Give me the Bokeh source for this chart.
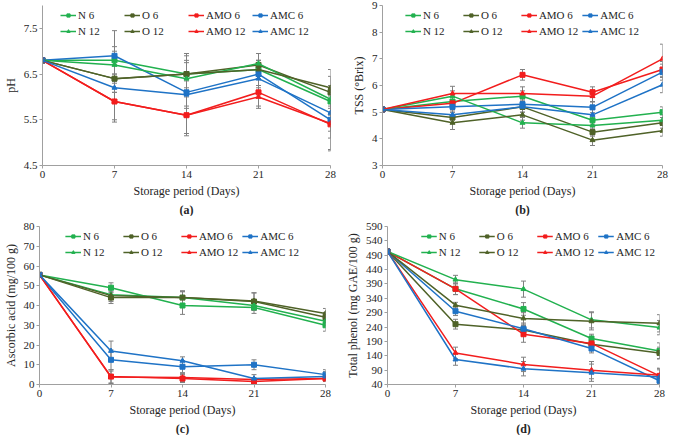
from bokeh.plotting import figure
from bokeh.models import (Range1d, Whisker, TeeHead, ColumnDataSource, Legend,
                          LegendItem, FixedTicker, Title)
from bokeh.layouts import column, row
from bokeh.embed import file_html
from bokeh.resources import INLINE

days = [0, 7, 14, 21, 28]
series = ["N 6", "O 6", "AMO 6", "AMC 6", "N 12", "O 12", "AMO 12", "AMC 12"]

# (a) pH
ph = {
    "N 6":    [6.8, 6.8, 6.5, 6.6, 5.9],
    "N 12":   [6.8, 6.7, 6.4, 6.73, 5.95],
    "O 6":    [6.8, 6.4, 6.5, 6.7, 6.1],
    "O 12":   [6.8, 6.4, 6.5, 6.6, 6.2],
    "AMO 6":  [6.8, 5.9, 5.6, 6.1, 5.4],
    "AMO 12": [6.8, 5.9, 5.6, 6.0, 5.42],
    "AMC 6":  [6.8, 6.9, 6.1, 6.5, 5.5],
    "AMC 12": [6.8, 6.2, 6.05, 6.4, 5.65],
}
ph_err = {
    "N 6":    [0.05, 0.3, 0.3, 0.2, 0.3],
    "N 12":   [0.05, 0.3, 0.35, 0.22, 0.3],
    "O 6":    [0.05, 0.3, 0.45, 0.25, 0.35],
    "O 12":   [0.05, 0.3, 0.4, 0.2, 0.4],
    "AMO 6":  [0.05, 0.45, 0.45, 0.3, 0.55],
    "AMO 12": [0.05, 0.4, 0.4, 0.25, 0.6],
    "AMC 6":  [0.05, 0.55, 0.3, 0.3, 0.4],
    "AMC 12": [0.05, 0.3, 0.3, 0.3, 0.4],
}

# (b) TSS
tss = {
    "N 6":    [5.1, 5.4, 5.6, 4.7, 5.0],
    "N 12":   [5.1, 5.6, 4.6, 4.5, 4.7],
    "O 6":    [5.1, 4.8, 5.2, 4.25, 4.6],
    "O 12":   [5.1, 4.6, 4.9, 3.95, 4.3],
    "AMO 6":  [5.1, 5.33, 6.4, 5.75, 6.6],
    "AMO 12": [5.1, 5.7, 5.7, 5.6, 7.0],
    "AMC 6":  [5.1, 5.2, 5.3, 5.18, 6.5],
    "AMC 12": [5.1, 4.9, 5.2, 4.9, 6.03],
}
tss_err = {
    "N 6":    [0.05, 0.2, 0.2, 0.15, 0.2],
    "N 12":   [0.05, 0.2, 0.2, 0.15, 0.2],
    "O 6":    [0.05, 0.2, 0.2, 0.15, 0.2],
    "O 12":   [0.05, 0.25, 0.2, 0.2, 0.2],
    "AMO 6":  [0.05, 0.25, 0.2, 0.2, 0.3],
    "AMO 12": [0.05, 0.27, 0.25, 0.2, 0.55],
    "AMC 6":  [0.05, 0.2, 0.2, 0.2, 0.3],
    "AMC 12": [0.05, 0.2, 0.2, 0.2, 0.3],
}

# (c) Ascorbic acid
asc = {
    "N 6":    [55.5, 49, 40, 39, 30],
    "N 12":   [55.5, 45.5, 44, 40, 32],
    "O 6":    [55.5, 44, 44, 42, 34],
    "O 12":   [55.5, 45, 44, 42.3, 36],
    "AMO 6":  [55.5, 4, 3, 1.5, 3],
    "AMO 12": [55.5, 3.8, 3.5, 2.5, 3],
    "AMC 6":  [55.5, 12.5, 9, 10, 5],
    "AMC 12": [55.5, 17, 12, 3, 4],
}
asc_err = {
    "N 6":    [0.5, 2.5, 4.5, 3, 3],
    "N 12":   [0.5, 2.5, 3, 2.5, 2.5],
    "O 6":    [0.5, 3, 3.5, 4.5, 2.5],
    "O 12":   [0.5, 3, 3, 4, 2.5],
    "AMO 6":  [0.5, 3.5, 2, 1, 1],
    "AMO 12": [0.5, 3, 2, 1, 1],
    "AMC 6":  [0.5, 5, 3, 2.5, 2.5],
    "AMC 12": [0.5, 5, 2, 2, 2.5],
}

# (d) Total phenol
phen = {
    "N 6":    [503, 373, 303, 200, 157],
    "N 12":   [503, 405, 372, 265, 238],
    "O 6":    [503, 250, 230, 180, 150],
    "O 12":   [503, 316, 270, 260, 253],
    "AMO 6":  [503, 373, 215, 183, 70],
    "AMO 12": [503, 150, 110, 90, 72],
    "AMC 6":  [503, 295, 234, 165, 53],
    "AMC 12": [503, 127, 95, 81, 66],
}
phen_err = {
    "N 6":    [5, 20, 22, 15, 28],
    "N 12":   [5, 15, 28, 28, 25],
    "O 6":    [5, 17, 15, 20, 20],
    "O 12":   [5, 10, 20, 30, 30],
    "AMO 6":  [5, 20, 28, 25, 25],
    "AMO 12": [5, 20, 25, 30, 25],
    "AMC 6":  [5, 15, 20, 15, 20],
    "AMC 12": [5, 20, 25, 30, 25],
}

colors = {"N": "#22B14F", "O": "#4F6228", "AMO": "#F21D1D", "AMC": "#1F73C6"}
FONT = "Liberation Serif"
ERR = "#808080"
TXT = "#262626"


def make_panel(vals, errs, ylabel, yr, yticks, caption, fw, fh,
               borders, legend_loc, label_w):
    left, right, top, bottom = borders
    p = figure(frame_width=fw, frame_height=fh, output_backend="svg",
               toolbar_location=None, x_range=Range1d(0, 28),
               y_range=Range1d(*yr), min_border_left=left,
               min_border_right=right, min_border_top=top,
               min_border_bottom=bottom)
    p.grid.visible = False
    p.outline_line_color = None
    for ax in (p.xaxis[0], p.yaxis[0]):
        ax.axis_line_color = "#A0A0A0"
        ax.major_tick_line_color = "#A0A0A0"
        ax.minor_tick_line_color = None
        ax.major_tick_in = 0
        ax.major_tick_out = 3
        ax.major_label_text_font = FONT
        ax.major_label_text_font_size = "11px"
        ax.major_label_text_color = TXT
        ax.axis_label_text_font = FONT
        ax.axis_label_text_font_size = "12px"
        ax.axis_label_text_font_style = "normal"
        ax.axis_label_text_color = TXT
        ax.major_label_standoff = 2
        ax.axis_label_standoff = 3
    p.xaxis.ticker = FixedTicker(ticks=days)
    p.yaxis.ticker = FixedTicker(ticks=yticks)
    p.xaxis.axis_label = "Storage period (Days)"
    p.yaxis.axis_label = ylabel

    items = []
    for s in series:
        grp, dose = s.split()
        c = colors[grp]
        lo = [v - e for v, e in zip(vals[s], errs[s])]
        hi = [v + e for v, e in zip(vals[s], errs[s])]
        src = ColumnDataSource(dict(x=days, y=vals[s], lo=lo, hi=hi))
        w = Whisker(source=src, base="x", lower="lo", upper="hi",
                    line_color=ERR, line_width=1,
                    upper_head=TeeHead(size=5, line_color=ERR, line_width=1),
                    lower_head=TeeHead(size=5, line_color=ERR, line_width=1))
        p.add_layout(w)
        lr = p.line("x", "y", source=src, line_color=c, line_width=1.5)
        mk = "square" if dose == "6" else "triangle"
        mr = p.scatter("x", "y", source=src, marker=mk, size=5,
                       fill_color=c, line_color=c)
        items.append(LegendItem(label=s, renderers=[lr, mr]))

    leg = Legend(items=items, ncols=4, orientation="horizontal",
                 location=legend_loc, label_text_font=FONT,
                 label_text_font_size="11px", label_text_color=TXT,
                 glyph_width=16, glyph_height=8, label_standoff=2,
                 label_width=label_w, label_height=12, spacing=4, padding=0,
                 margin=4, border_line_color=None,
                 background_fill_alpha=0)
    p.add_layout(leg)

    t = Title(text=caption, align="center", text_font=FONT,
              text_font_size="12px", text_font_style="bold",
              text_color=TXT, standoff=0)
    p.add_layout(t, "below")
    return p


pa = make_panel(ph, ph_err, "pH", (4.5, 8.0), [4.5, 5.5, 6.5, 7.5], "(a)",
                288, 160, (32, 10, 5, 10), "top_center", 42)
pb = make_panel(tss, tss_err, "TSS (°Brix)", (3, 9), [3, 4, 5, 6, 7, 8, 9],
                "(b)", 280, 160, (42, 8, 5, 10), "top_center", 36)
pc = make_panel(asc, asc_err, "Ascorbic acid (mg/100 g)", (0, 80),
                list(range(0, 81, 10)), "(c)", 286, 158, (32, 12, 10, 5),
                "top_center", 36)
pd = make_panel(phen, phen_err, "Total phenol (mg GAE/100 g)", (40, 590),
                list(range(40, 591, 50)), "(d)", 272, 158, (50, 8, 10, 5),
                "top_right", 36)

layout = column(row(pa, pb), row(pc, pd))
open("out.html", "w").write(file_html(layout, INLINE))
